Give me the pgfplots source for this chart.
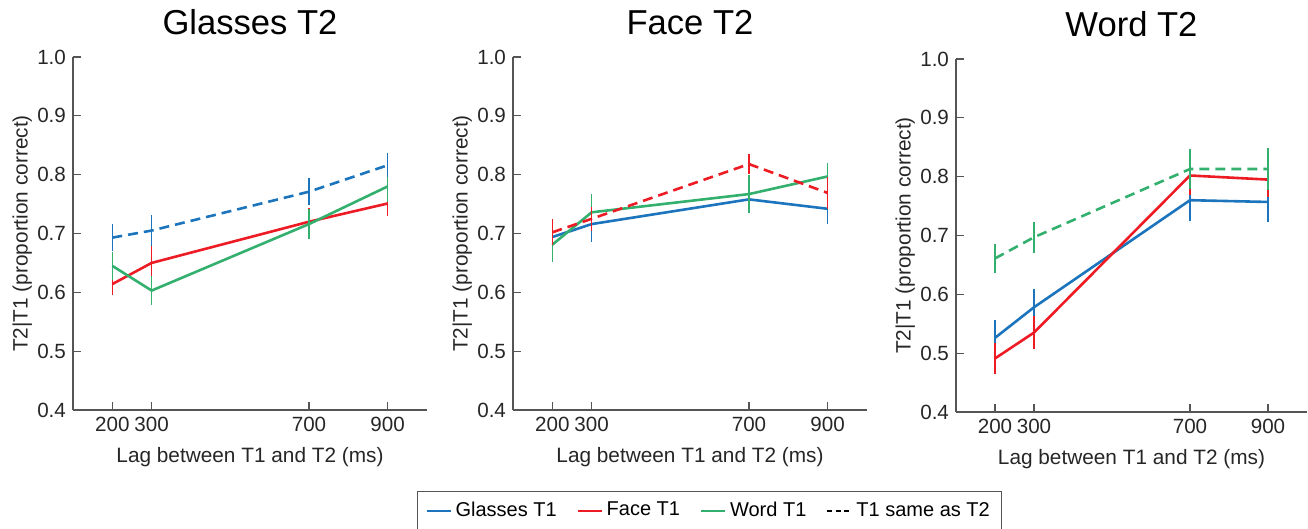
\documentclass[border=0pt]{standalone}
\usepackage{fontspec}
\setmainfont{Liberation Sans}
\usepackage{pgfplots}
\pgfplotsset{compat=1.18}
\definecolor{cblue}{HTML}{1C75BC}
\definecolor{cred}{HTML}{ED1C24}
\definecolor{cgreen}{HTML}{33B06E}
\definecolor{axgray}{HTML}{555555}

\pgfplotsset{
  panel/.style={
    scale only axis,
    width=177pt, height=176.5pt,
    anchor=south west,
    xmin=100, xmax=1000, ymin=0.4, ymax=1.0,
    axis x line*=bottom, axis y line*=left,
    axis line style={-, draw=axgray, line width=0.6pt},
    tick style={draw=axgray, line width=0.6pt},
    tick align=inside, major tick length=4pt,
    xtick={200,300,700,900},
    ytick={0.4,0.5,0.6,0.7,0.8,0.9,1.0},
    yticklabel style={/pgf/number format/.cd, fixed, fixed zerofill, precision=1},
    /pgf/number format/assume math mode=true,
    tick label style={font=\fontsize{10.3}{12}\selectfont, text=black!85},
    label style={font=\fontsize{10.4}{12}\selectfont, text=black!85},
    xlabel={Lag between T1 and T2 (ms)},
    ylabel={T2|T1 (proportion correct)},
    xlabel style={at={(axis description cs:0.5,0)}, anchor=north, yshift=-15pt},
    ylabel style={at={(axis description cs:0,0.5)}, anchor=south, yshift=17pt},
    title style={font=\fontsize{17.3}{20}\selectfont, at={(axis description cs:0.5,1)}, yshift=1.5pt},
    every axis plot/.append style={line width=1.3pt, mark=none},
    error bars/y dir=both, error bars/y explicit, error bars/error mark=none,
    legend image code/.code={\draw[#1, line width=1pt] (0pt,0pt) -- (12pt,0pt);},
  },
  eb/.style={error bars/error bar style={line width=0.8pt, solid, draw=#1}},
  dash/.style={dash pattern=on 5pt off 3pt},
}

\begin{document}
\begin{tikzpicture}
\useasboundingbox (0,0) rectangle (654pt,264.5pt);

% Glasses T2
\begin{axis}[panel, at={(36.5pt,59.5pt)}, title={Glasses T2}]
  \addplot[cred, eb=cred] coordinates {
    (200,0.614) +- (0,0.018) (300,0.650) +- (0,0.028) (700,0.720) +- (0,0.023) (900,0.751) +- (0,0.022)};
  \addplot[cgreen, eb=cgreen] coordinates {
    (200,0.645) +- (0,0.024) (300,0.603) +- (0,0.024) (700,0.716) +- (0,0.025) (900,0.780) +- (0,0.027)};
  \addplot[cblue, dash, eb=cblue] coordinates {
    (200,0.693) +- (0,0.023) (300,0.705) +- (0,0.027) (700,0.771) +- (0,0.023) (900,0.816) +- (0,0.020)};
\end{axis}

% Face T2
\begin{axis}[panel, at={(256.5pt,59.5pt)}, title={Face T2},
  legend style={at={(axis description cs:-0.2712,-0.2300)}, anchor=north west,
    draw=axgray, line width=0.6pt, inner xsep=4pt, inner ysep=3pt,
    font=\fontsize{10}{12}\selectfont, legend columns=4,
    /tikz/every even column/.append style={column sep=8pt}},
  legend cell align=left]
  \addplot[cblue, eb=cblue, forget plot] coordinates {
    (200,0.694) +- (0,0.024) (300,0.716) +- (0,0.030) (700,0.758) +- (0,0.023) (900,0.742) +- (0,0.026)};
  \addplot[cgreen, eb=cgreen, forget plot] coordinates {
    (200,0.681) +- (0,0.030) (300,0.736) +- (0,0.031) (700,0.767) +- (0,0.032) (900,0.797) +- (0,0.022)};
  \addplot[cred, dash, eb=cred, forget plot] coordinates {
    (200,0.702) +- (0,0.022) (300,0.725) +- (0,0.020) (700,0.818) +- (0,0.017) (900,0.769) +- (0,0.027)};
  \addlegendimage{cblue}
  \addlegendentry{Glasses T1}
  \addlegendimage{cred}
  \addlegendentry{Face T1}
  \addlegendimage{cgreen}
  \addlegendentry{Word T1}
  \addlegendimage{black, dash pattern=on 2.5pt off 1.6pt}
  \addlegendentry{T1 same as T2}
\end{axis}

% Word T2
\begin{axis}[panel, at={(478pt,58.5pt)}, width=175.5pt, title={Word T2}]
  \addplot[cblue, eb=cblue] coordinates {
    (200,0.526) +- (0,0.030) (300,0.578) +- (0,0.031) (700,0.760) +- (0,0.035) (900,0.757) +- (0,0.034)};
  \addplot[cred, eb=cred] coordinates {
    (200,0.491) +- (0,0.026) (300,0.535) +- (0,0.028) (700,0.802) +- (0,0.034) (900,0.795) +- (0,0.029)};
  \addplot[cgreen, dash, eb=cgreen] coordinates {
    (200,0.661) +- (0,0.024) (300,0.697) +- (0,0.026) (700,0.813) +- (0,0.034) (900,0.813) +- (0,0.035)};
\end{axis}
\end{tikzpicture}
\end{document}
